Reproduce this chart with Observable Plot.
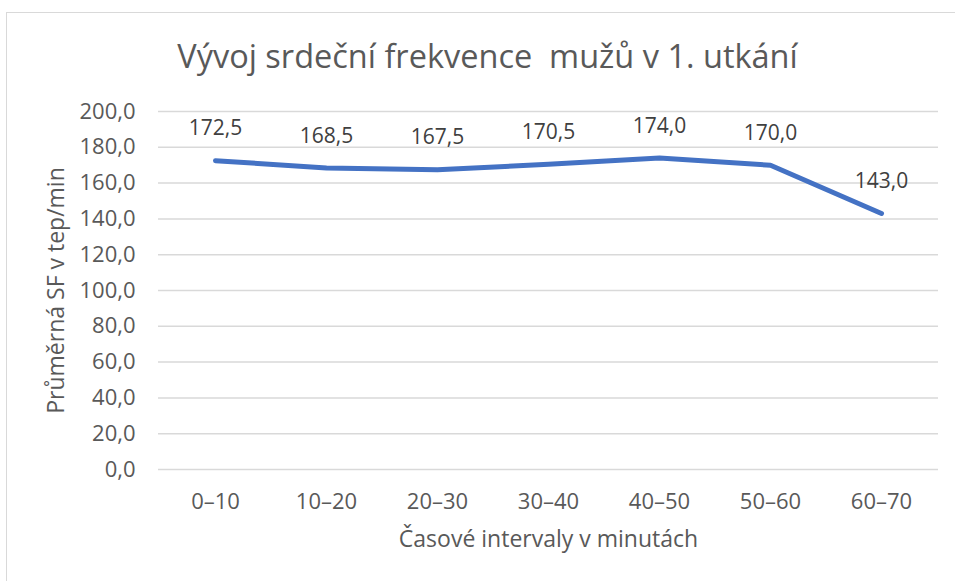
<!DOCTYPE html>
<html>
<head>
<meta charset="utf-8">
<script src="https://cdn.jsdelivr.net/npm/d3@7"></script>
<script src="https://cdn.jsdelivr.net/npm/@observablehq/plot@0.6"></script>
<style>
  html, body { margin: 0; padding: 0; background: #fff; overflow: hidden; }
  #wrap { position: relative; width: 955px; height: 581px; }
  #border { position: absolute; left: 6px; top: 12px; width: 1200px; height: 1200px;
            border-left: 1.5px solid #d9d9d9; border-top: 1.5px solid #d9d9d9; box-sizing: border-box; }
  #chart { position: absolute; left: 0; top: 0; }
  svg { font-family: "Open Sans", sans-serif; }
</style>
</head>
<body>
<div id="wrap"><div id="border"></div><div id="chart"></div></div>
<script>
const title = "Vývoj srdeční frekvence  mužů v 1. utkání";
const xTitle = "Časové intervaly v minutách";
const yTitle = "Průměrná SF v tep/min";
const categories = ["0–10", "10–20", "20–30", "30–40", "40–50", "50–60", "60–70"];
const values = [172.5, 168.5, 167.5, 170.5, 174.0, 170.0, 143.0];
const yTicks = [0, 20, 40, 60, 80, 100, 120, 140, 160, 180, 200];

const data = categories.map((c, i) => ({cat: c, v: values[i]}));
const fmt = d => d.toFixed(1).replace(".", ",");

const chart = Plot.plot({
  width: 955,
  height: 581,
  marginLeft: 158,
  marginRight: 17,
  marginTop: 111,
  marginBottom: 112,
  style: {fontFamily: "Open Sans, sans-serif", background: "transparent", overflow: "visible"},
  x: {type: "point", domain: categories, padding: 0.5},
  y: {domain: [0, 200]},
  marks: [
    Plot.ruleY(yTicks, {stroke: "#d9d9d9", strokeWidth: 1.5, strokeOpacity: 1}),
    Plot.axisY(yTicks, {tickSize: 0, tickPadding: 23, tickFormat: fmt, fontSize: 22, fill: "#595959", label: null}),
    Plot.axisX({tickSize: 0, tickPadding: 24, fontSize: 22, fill: "#595959", label: null}),
    Plot.line(data, {x: "cat", y: "v", stroke: "#4472C4", strokeWidth: 5, strokeLinejoin: "round", strokeLinecap: "round"}),
    Plot.text(data, {x: "cat", y: "v", text: d => fmt(d.v), dy: -32, fontSize: 21, fill: "#404040"}),
    Plot.text([title], {frameAnchor: "top", dx: -61, dy: -67, fontSize: 32.5, fill: "#595959"}),
    Plot.text([xTitle], {frameAnchor: "bottom", dy: 77, fontSize: 23, fill: "#595959"}),
    Plot.text([yTitle], {frameAnchor: "left", textAnchor: "middle", dx: -102, rotate: -90, fontSize: 23, fill: "#595959"})
  ]
});
document.getElementById("chart").appendChild(chart);
</script>
</body>
</html>
